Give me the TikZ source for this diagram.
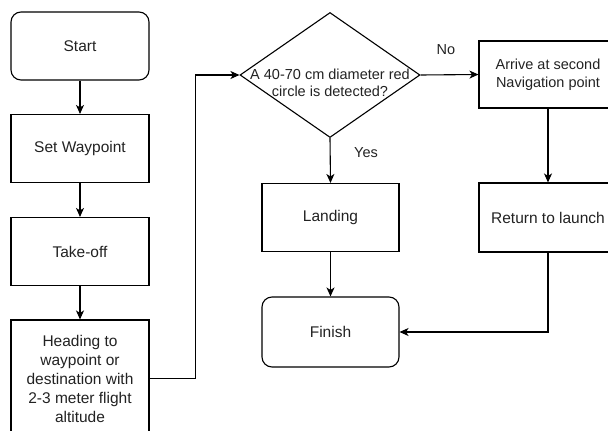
\documentclass[tikz,border=0pt]{standalone}
\usepackage{fontspec}
\setmainfont{Liberation Sans}
\usepackage{tikz}
\usetikzlibrary{arrows.meta,calc,positioning,shapes.geometric}
\definecolor{ink}{HTML}{222222}

\begin{document}
\begin{tikzpicture}[
          x=1pt, y=-1pt,
          line width=1.1pt,
          lbl/.style={font=\fontsize{14.5}{17}\selectfont, text=ink},
          box/.style={draw, text=ink, font=\fontsize{15.5}{19}\selectfont, minimum width=138pt, minimum height=68pt, align=center, inner sep=2pt},
          term/.style={box, rounded corners=10pt},
          decision/.style={diamond, draw, minimum width=180pt, minimum height=125pt, inner sep=0pt},
          arr/.style={-{Stealth[length=9pt, width=8pt, inset=2.5pt]}}
      ]
        \useasboundingbox (0,0) rectangle (608,431);
        % left column
        \node[term] (start) at (80,46) {Start};
        \node[box] (setwp) at (80,148.5) {Set Waypoint};
        \node[box] (takeoff) at (80,251.5) {Take-off};
        \node[box, minimum height=117pt] (heading) at (80,378.5) {Heading to\\waypoint or\\destination with\\2-3 meter flight\\altitude};
        % decision
        \node[decision] (decide) at (330,75) {};
        \node[lbl, align=center, inner sep=0pt] (decidetxt) at (330,83) {A 40-70 cm diameter red\\circle is detected?};
        \node[box, minimum width=137pt] (landing) at (330.5,217.5) {Landing};
        \node[term, minimum width=137pt, minimum height=70pt] (finish) at (330.5,332) {Finish};
        % right column
        \node[box, font=\fontsize{14.5}{18}\selectfont, minimum height=67pt] (arrive) at (548,74.5) {Arrive at second\\Navigation point};
        \node[box, minimum height=69pt] (ret) at (548,217.5) {Return to launch};
        \node[lbl] (yes) at (366,153) {Yes};
        \node[lbl] (no) at (446,50) {No};
        % connectors
        \draw[arr] (start) -- (setwp);
        \draw[arr] (setwp) -- (takeoff);
        \draw[arr] (takeoff) -- (heading);
        \draw[arr] (heading.east) -- ++(46,0) |- (decide.west);
        \draw[arr] (decide.south) -- (landing.north);
        \draw[arr] (decide.east) -- (arrive.west);
        \draw[arr] (arrive) -- (ret);
        \draw[arr] (landing) -- (finish);
        \draw[arr] (ret.south) |- (finish.east);
      \end{tikzpicture}
\end{document}
